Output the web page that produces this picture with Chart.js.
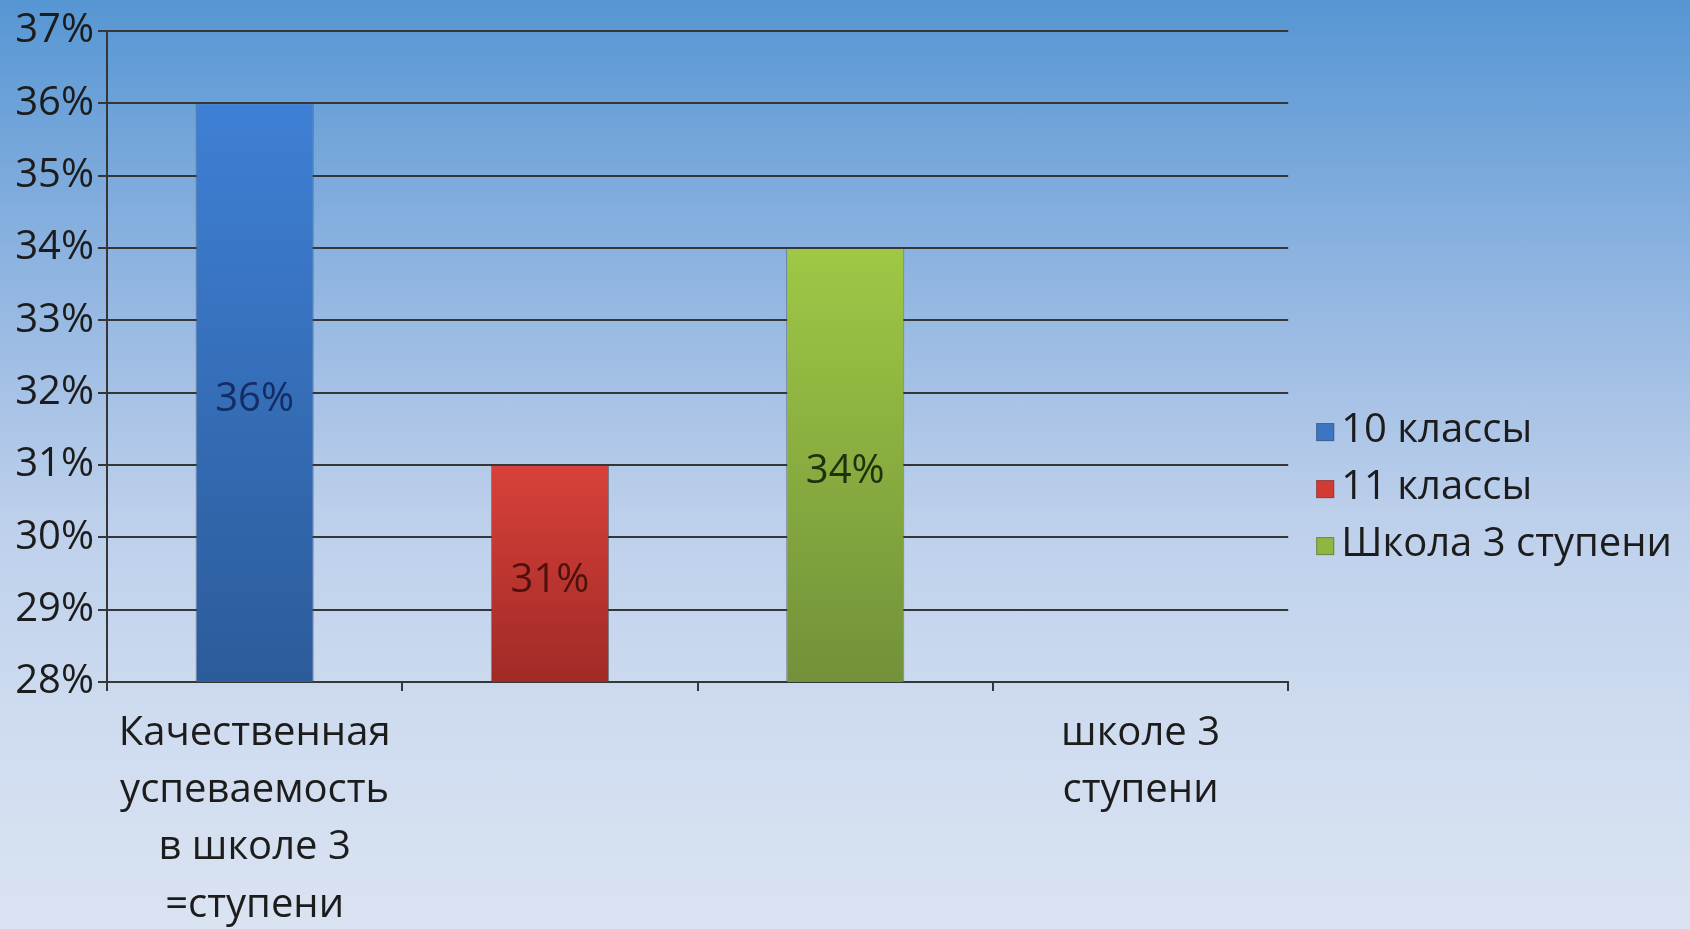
<!DOCTYPE html>
<html lang="ru">
<head>
<meta charset="utf-8">
<title>Качественная успеваемость</title>
<script src="https://cdn.jsdelivr.net/npm/chart.js@4.4.0/dist/chart.umd.min.js"></script>
<style>
    html, body {
        margin: 0;
        padding: 0;
        width: 1690px;
        height: 929px;
        overflow: hidden;
    }
    body {
        background: linear-gradient(to bottom, #5696d3 0%, #8db3e0 28%, #bccfeb 55%, #cfdcf0 78%, #dae3f1 100%);
    }
    #wrap {
        position: relative;
        width: 1690px;
        height: 929px;
    }
</style>
</head>
<body>
<div id="wrap"><canvas id="chart" width="1690" height="929"></canvas></div>
<script>
// --- data ---
const categories = [
    ['Качественная', 'успеваемость', 'в школе 3', '=ступени'],
    '',
    '',
    ['школе 3', 'ступени']
];
const seriesNames = ['10 классы', '11 классы', 'Школа 3 ступени'];
const grade10 = [36, null, null, null];
const grade11 = [null, 31, null, null];
const schoolTotal = [null, null, 34, null];
const yTicks = [28, 29, 30, 31, 32, 33, 34, 35, 36, 37];

// colours: [top of bar, bottom of bar, value label, legend swatch]
const palette = [
    ['#3e80d5', '#2c5b9a', '#132d66', '#3a76c4'],
    ['#d9413a', '#a02a26', '#50110e', '#d23a33'],
    ['#9fc845', '#72913a', '#1f300f', '#8fb640']
];

const FONT = '"Open Sans", "Noto Sans", sans-serif';
const LEGEND_FONT = 40;
const LEGEND_BOX = 16;
const SWATCH = 18;

function barFill(idx) {
    return (context) => {
        const chart = context.chart;
        const y = chart.scales.y;
        const value = context.raw;
        if (!chart.chartArea || !y || value === null || value === undefined) return palette[idx][0];
        const g = chart.ctx.createLinearGradient(0, y.getPixelForValue(value), 0, y.getPixelForValue(y.min));
        g.addColorStop(0, palette[idx][0]);
        g.addColorStop(1, palette[idx][1]);
        return g;
    };
}

// value in the middle of each bar + small legend swatches next to the text
const barValueLabels = {
    id: 'barValueLabels',
    afterDraw(chart) {
        const ctx = chart.ctx;
        const yScale = chart.scales.y;
        ctx.save();
        ctx.font = '40px ' + FONT;
        ctx.textAlign = 'center';
        ctx.textBaseline = 'middle';
        chart.data.datasets.forEach((ds, i) => {
            const meta = chart.getDatasetMeta(i);
            ds.data.forEach((v, j) => {
                if (v === null || v === undefined) return;
                const bar = meta.data[j];
                const top = yScale.getPixelForValue(v);
                const base = yScale.getPixelForValue(yScale.min);
                ctx.fillStyle = palette[i][2];
                ctx.fillText(v + '%', bar.x, (top + base) / 2 + 7);
            });
        });

        const legend = chart.legend;
        if (legend && legend.legendHitBoxes) {
            legend.legendHitBoxes.forEach((hb, i) => {
                const textX = hb.left + LEGEND_BOX + LEGEND_FONT / 2;
                const cy = hb.top + hb.height / 2 + 1;
                const sx = textX - 7 - SWATCH;
                ctx.fillStyle = palette[i][3];
                ctx.fillRect(sx, cy - SWATCH / 2, SWATCH, SWATCH);
                ctx.strokeStyle = 'rgba(70, 70, 70, 0.45)';
                ctx.lineWidth = 1;
                ctx.strokeRect(sx + 0.5, cy - SWATCH / 2 + 0.5, SWATCH - 1, SWATCH - 1);
            });
        }
        ctx.restore();
    }
};

const seriesData = [grade10, grade11, schoolTotal];

const chart = new Chart(document.getElementById('chart'), {
    type: 'bar',
    data: {
        labels: categories,
        datasets: seriesData.map((values, i) => ({
            label: seriesNames[i],
            data: values,
            backgroundColor: barFill(i),
            borderColor: 'rgba(60, 60, 60, 0.55)',
            borderWidth: 1,
            borderSkipped: 'bottom',
            barPercentage: 0.4,
            categoryPercentage: 1.0
        }))
    },
    options: {
        responsive: false,
        animation: false,
        layout: {
            padding: { top: 31, right: 8, left: 0, bottom: 0 }
        },
        scales: {
            x: {
                stacked: true,
                afterFit: (scale) => { scale.height = 247; },
                grid: {
                    drawOnChartArea: false,
                    drawTicks: true,
                    tickLength: 9,
                    color: '#363636',
                    lineWidth: 2,
                    offset: true
                },
                border: { display: true, color: '#363636', width: 2 },
                ticks: {
                    color: '#1c1c1c',
                    padding: 14,
                    maxRotation: 0,
                    autoSkip: false,
                    font: { family: FONT, size: 40, lineHeight: 1.43 }
                }
            },
            y: {
                min: yTicks[0],
                max: yTicks[yTicks.length - 1],
                afterFit: (scale) => { scale.width = 107; },
                afterBuildTicks: (scale) => {
                    scale.ticks = yTicks.map(v => ({ value: v }));
                },
                grid: {
                    color: '#363636',
                    lineWidth: 2,
                    tickLength: 9
                },
                border: { display: true, color: '#363636', width: 2 },
                ticks: {
                    color: '#1c1c1c',
                    padding: 4,
                    font: { family: FONT, size: 40 },
                    callback: (value) => value + '%'
                }
            }
        },
        plugins: {
            legend: {
                position: 'right',
                align: 'center',
                title: {
                    display: true,
                    text: '',
                    padding: { top: 15, bottom: 0 },
                    font: { size: 1 }
                },
                labels: {
                    color: '#1c1c1c',
                    boxWidth: LEGEND_BOX,
                    boxHeight: LEGEND_BOX,
                    padding: 17,
                    font: { family: FONT, size: LEGEND_FONT },
                    generateLabels: (c) => c.data.datasets.map((ds, i) => ({
                        text: ds.label,
                        fillStyle: 'rgba(0, 0, 0, 0)',
                        strokeStyle: 'rgba(0, 0, 0, 0)',
                        lineWidth: 0,
                        fontColor: '#1c1c1c',
                        hidden: false,
                        datasetIndex: i
                    }))
                }
            },
            tooltip: { enabled: false }
        }
    },
    plugins: [barValueLabels]
});
</script>
</body>
</html>
